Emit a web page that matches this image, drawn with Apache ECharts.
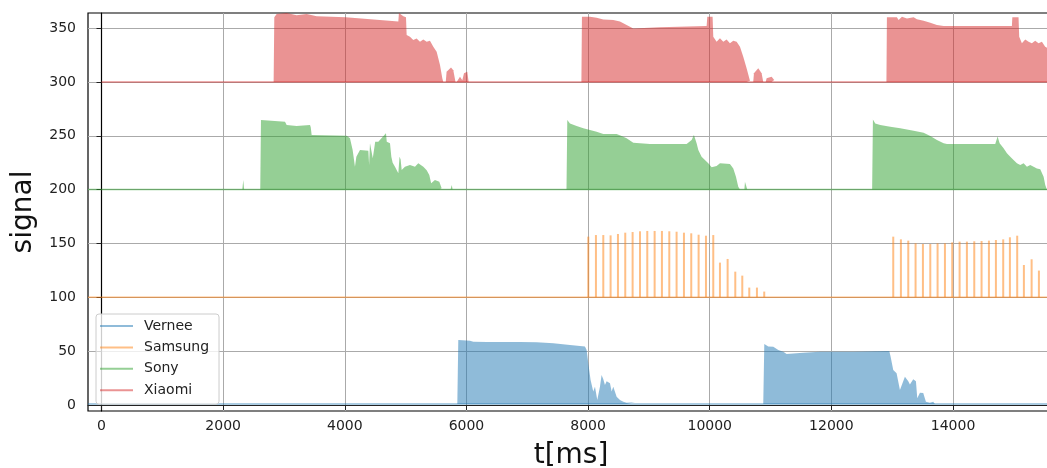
<!DOCTYPE html>
<html>
<head>
<meta charset="utf-8">
<script src="https://cdn.jsdelivr.net/npm/echarts@6/dist/echarts.min.js"></script>
<style>
  html, body { margin: 0; padding: 0; background: #fff; }
  #signalChart { width: 1047px; height: 468px; }
</style>
</head>
<body>
<div id="signalChart"></div>
<script>
// traces as [t in ms, signal]; every device sits on its own baseline
const verneeBase = 1
const verneeBursts = [
  [[5850, 1], [5866, 60.4], [5894, 59.7], [6058, 59.7], [6113, 58.8], [6332, 58.5], [6880, 58.5],
   [7154, 58.2], [7428, 57.3], [7702, 55.7], [7948, 54.2], [7976, 51.1], [8003, 38.7], [8041, 23.2],
   [8085, 12.4], [8113, 17], [8151, 4.6], [8195, 17], [8222, 27.9], [8250, 24], [8277, 18.6],
   [8305, 22], [8360, 20.1], [8387, 12.4], [8414, 17], [8469, 7.7], [8524, 4.6], [8579, 3.1],
   [8633, 2], [8770, 2.5], [8798, 1]],
  [[10880, 1], [10897, 56.6], [10962, 54.2], [11045, 54], [11127, 51.1], [11209, 49.5], [11264, 47.4],
   [11538, 48.6], [11812, 49.5], [12360, 49.5], [12952, 50.1], [12973, 44.9], [13017, 32.5],
   [13072, 29.4], [13127, 13.9], [13209, 26.3], [13264, 22], [13291, 19.1], [13346, 23.8],
   [13390, 22], [13412, 6.2], [13456, 11.4], [13510, 11], [13554, 3.1], [13620, 2], [13675, 3.1],
   [13702, 1]]
]
const samsungBase = 100
const samsungSpikes = [
  [8003, 156.3], [8129, 157.8], [8250, 157.8], [8370, 157.5], [8491, 158.8], [8611, 160],
  [8732, 160.6], [8853, 161.3], [8973, 161.6], [9094, 161.6], [9214, 161.6], [9335, 161.3],
  [9455, 160.9], [9576, 160], [9696, 159.4], [9817, 158.1], [9938, 157.2], [10058, 157.8],
  [10168, 132.2], [10294, 135.6], [10420, 123.8], [10535, 120.1], [10650, 109], [10776, 109],
  [10896, 105.3],
  [13017, 156.3], [13143, 153.8], [13264, 152.6], [13384, 150.1], [13505, 149.5], [13626, 149.5],
  [13746, 150.1], [13867, 150.1], [13987, 151], [14108, 151.7], [14228, 151.7], [14349, 152],
  [14469, 152.3], [14590, 152.6], [14705, 153.2], [14825, 153.8], [14935, 155.7], [15055, 157.2],
  [15165, 130], [15292, 135.3], [15412, 124.8]
]
const sonyBase = 200
const sonyBursts = [
  [[2315, 200], [2331, 209], [2345, 200]],
  [[2610, 200], [2622, 264.6], [3017, 263], [3044, 260], [3208, 259], [3428, 260], [3440, 257.8],
   [3455, 250.7], [4030, 250], [4085, 247.6], [4110, 247], [4129, 236.8], [4167, 221.3], [4190, 230.6],
   [4250, 236.8], [4387, 236], [4400, 222.8], [4414, 243], [4440, 243], [4460, 229], [4480, 229],
   [4500, 244.5], [4551, 244.5], [4640, 250], [4677, 252.3], [4690, 244.5], [4743, 243], [4765, 230.6],
   [4787, 225], [4825, 221.3], [4880, 215.1], [4900, 230.6], [4918, 228], [4935, 218.2], [4989, 221.3],
   [5071, 222.8], [5154, 221.3], [5208, 224.4], [5291, 221.3], [5346, 218], [5389, 213.6], [5420, 205.9],
   [5482, 208.9], [5554, 207.4], [5592, 201.2], [5619, 200]],
  [[5740, 200], [5757, 204.3], [5773, 200]],
  [[7645, 200], [7658, 264.6], [7702, 261.5], [7811, 259.1], [7921, 256.9], [8031, 255.3], [8140, 253.8],
   [8250, 251.6], [8469, 251.6], [8551, 249.8], [8633, 247.6], [8743, 243.6], [9017, 242.3], [9620, 242.3],
   [9702, 246], [9740, 250.7], [9784, 243], [9812, 236.8], [9866, 230.6], [9921, 227.5], [9976, 224.4],
   [10031, 220.7], [10113, 221.9], [10168, 224.4], [10332, 223.8], [10387, 219.7], [10431, 212],
   [10469, 202.7], [10497, 200]],
  [[10570, 200], [10579, 207.4], [10617, 200]],
  [[12670, 200], [12683, 265.2], [12721, 261.5], [12803, 260], [12968, 258.4], [13132, 256.9],
   [13352, 254.7], [13516, 252.9], [13626, 249.8], [13735, 246], [13845, 243], [13900, 242.3],
   [14694, 242.3], [14733, 249.2], [14766, 243], [14831, 238.3], [14886, 233.7], [14941, 230.6],
   [14995, 227.5], [15050, 224.4], [15105, 222.8], [15160, 224.4], [15215, 221.3], [15269, 222.8],
   [15324, 221.3], [15379, 219.7], [15434, 218.8], [15489, 212], [15516, 204.3], [15543, 200]]
]
const xiaomiBase = 300
const xiaomiBursts = [
  [[2830, 300], [2841, 360], [2880, 363], [3044, 364], [3208, 362], [3373, 363], [3537, 361],
   [4014, 360], [4880, 356], [4890, 364], [4962, 361], [5006, 360], [5017, 343.5], [5071, 342],
   [5126, 339], [5181, 340.4], [5236, 337.3], [5291, 339.5], [5346, 337.3], [5400, 338.3], [5455, 332.7],
   [5510, 328], [5565, 315.7], [5603, 303.3], [5619, 300]],
  [[5660, 300], [5674, 309.5], [5746, 313.5], [5784, 310.8], [5820, 300]],
  [[5839, 300], [5894, 304.8], [5932, 301.5], [5960, 308], [6014, 309.5], [6036, 300]],
  [[7890, 300], [7899, 360.5], [8031, 360.5], [8058, 359], [8140, 359.5], [8250, 358], [8414, 357.5],
   [8524, 356], [8633, 352.8], [8743, 349.7], [9181, 350.7], [9949, 351.9], [9960, 360.5],
   [10047, 360.5], [10058, 342], [10113, 337.4], [10168, 340.5], [10223, 337.4], [10277, 339.5],
   [10332, 335.8], [10387, 338.3], [10442, 337.4], [10497, 332.7], [10551, 323.4], [10606, 312.6],
   [10661, 301.1], [10688, 300]],
  [[10715, 300], [10727, 308], [10798, 312.6], [10853, 308], [10880, 300]],
  [[10920, 300], [10935, 303.3], [10960, 301.8], [11017, 304.9], [11060, 301.8], [11088, 300]],
  [[12905, 300], [12913, 360], [13077, 360], [13105, 357.5], [13160, 360.6], [13242, 359], [13352, 360],
   [13406, 358.1], [13516, 356.9], [13626, 355], [13735, 352.8], [13845, 351.9], [14968, 351.9],
   [14975, 360], [15077, 360], [15088, 342], [15132, 335.8], [15187, 339.5], [15242, 337.4],
   [15296, 335.8], [15351, 338.3], [15406, 335.8], [15461, 337.4], [15515, 332.7], [15600, 330]]
]
// where each device's flat trace begins and ends
const traceStart = { Vernee: -222, Samsung: -222, Sony: -222, Xiaomi: 0 }
const traceEnd = 15660
const xTicks = [0, 2000, 4000, 6000, 8000, 10000, 12000, 14000]
const yTicks = [0, 50, 100, 150, 200, 250, 300, 350]

const font = 'DejaVu Sans'
const colors = {
  Vernee: 'rgba(31,119,180,0.5)',
  Samsung: 'rgba(255,127,14,0.5)',
  Sony: 'rgba(44,160,44,0.5)',
  Xiaomi: 'rgba(214,39,40,0.5)'
}

function baseSeries(name, base) {
  return {
    name: name,
    type: 'line',
    data: [[traceStart[name], base], [traceEnd, base]],
    symbol: 'none',
    smooth: false,
    lineStyle: { color: colors[name], width: 1.5 },
    itemStyle: { color: colors[name] },
    emphasis: { disabled: true }
  }
}

function burstSeries(name, bursts, base) {
  return bursts.map(function (burst) {
    return {
      name: name,
      type: 'line',
      data: burst,
      symbol: 'none',
      smooth: false,
      lineStyle: { width: 0 },
      itemStyle: { color: colors[name] },
      areaStyle: { color: colors[name], opacity: 1, origin: base },
      emphasis: { disabled: true }
    }
  })
}

let myChart = echarts.init(document.getElementById('signalChart'))
const option = {
  animation: false,
  grid: {
    left: 88,
    top: 13,
    right: -7,
    bottom: 57,
    show: true,
    borderColor: '#000',
    borderWidth: 1.2,
    outerBoundsMode: 'none'
  },
  legend: {
    data: ['Vernee', 'Samsung', 'Sony', 'Xiaomi'],
    orient: 'vertical',
    left: 96,
    top: 314,
    icon: 'rect',
    itemWidth: 33,
    itemHeight: 2,
    itemGap: 7.4,
    padding: [5, 10, 7, 4],
    backgroundColor: 'rgba(255,255,255,0.8)',
    borderColor: '#cccccc',
    borderWidth: 1,
    borderRadius: 3,
    selectedMode: false,
    textStyle: { fontFamily: font, fontSize: 14, color: '#222', padding: [0, 0, 0, 6] }
  },
  xAxis: {
    type: 'value',
    min: -222,
    max: traceEnd,
    name: 't[ms]',
    nameLocation: 'middle',
    nameGap: 31,
    nameTextStyle: { fontFamily: font, fontSize: 28, color: '#111' },
    axisLine: { show: true, lineStyle: { color: '#222', width: 1.2 } },
    axisTick: { show: true, length: 5, customValues: xTicks, lineStyle: { color: '#222' } },
    axisLabel: {
      customValues: xTicks,
      margin: 8,
      fontFamily: font,
      fontSize: 14,
      color: '#222',
      formatter: function (v) { return String(v) }
    },
    splitLine: { show: true, lineStyle: { color: '#aaaaaa', width: 1 } }
  },
  yAxis: {
    type: 'value',
    min: -5.6,
    max: 364,
    name: 'signal',
    nameLocation: 'middle',
    nameGap: 50,
    nameTextStyle: { fontFamily: font, fontSize: 28, color: '#111' },
    axisLine: { show: true, lineStyle: { color: '#000', width: 1.2 } },
    axisTick: { show: true, length: 5, customValues: yTicks, lineStyle: { color: '#222' } },
    axisLabel: {
      customValues: yTicks,
      margin: 12,
      fontFamily: font,
      fontSize: 14,
      color: '#222',
      formatter: function (v) { return String(v) }
    },
    splitLine: { show: true, lineStyle: { color: '#aaaaaa', width: 1 } }
  },
  series: [
    baseSeries('Vernee', verneeBase),
    baseSeries('Samsung', samsungBase),
    baseSeries('Sony', sonyBase),
    baseSeries('Xiaomi', xiaomiBase)
  ].concat(
    burstSeries('Vernee', verneeBursts, verneeBase),
    [{
      name: 'Samsung',
      type: 'custom',
      coordinateSystem: 'cartesian2d',
      data: samsungSpikes,
      encode: { x: 0, y: 1 },
      itemStyle: { color: colors.Samsung },
      renderItem: function (params, api) {
        const t = api.value(0)
        const bottom = api.coord([t, samsungBase])
        const top = api.coord([t, api.value(1)])
        return {
          type: 'line',
          shape: { x1: bottom[0], y1: bottom[1], x2: top[0], y2: top[1] },
          style: { stroke: colors.Samsung, lineWidth: 2 }
        }
      }
    }],
    burstSeries('Sony', sonyBursts, sonyBase),
    burstSeries('Xiaomi', xiaomiBursts, xiaomiBase)
  )
}
myChart.setOption(option)
window.onresize = function () {
  myChart.resize()
}
</script>
</body>
</html>
